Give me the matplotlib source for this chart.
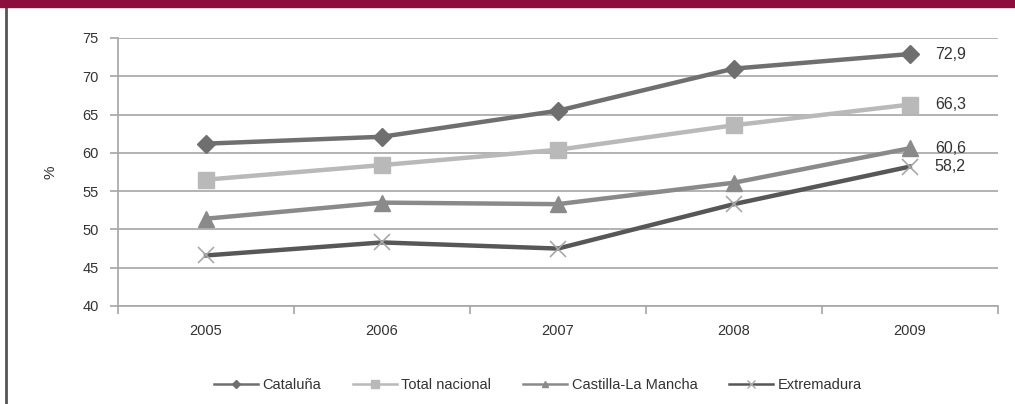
import numpy as np
import matplotlib as mpl
mpl.use('Agg')
import matplotlib.pyplot as plt
from matplotlib.patches import Rectangle
from matplotlib.lines import Line2D

plt.rcParams['font.family'] = ['Liberation Sans', 'DejaVu Sans']

years = ['2005', '2006', '2007', '2008', '2009']
cataluna = [61.2, 62.1, 65.5, 71.0, 72.9]
total_nacional = [56.5, 58.4, 60.4, 63.6, 66.3]
castilla = [51.4, 53.5, 53.3, 56.1, 60.6]
extremadura = [46.6, 48.3, 47.5, 53.3, 58.2]
end_labels = ['72,9', '66,3', '60,6', '58,2']

series = [
    ('Cataluña', cataluna, '#6f6f6f', 'D', 9, '#6f6f6f'),
    ('Total nacional', total_nacional, '#b9b9b9', 's', 12, '#b9b9b9'),
    ('Castilla-La Mancha', castilla, '#8a8a8a', '^', 11, '#8a8a8a'),
    ('Extremadura', extremadura, '#575757', 'x', 12, '#a8a8a8'),
]

fig = plt.figure(figsize=(10.15, 4.04), dpi=100)
fig.patch.set_facecolor('white')

# maroon band and left border
fig.add_artist(Rectangle((0, 0.982), 1, 0.018, transform=fig.transFigure,
                         color='#8b0e3b', zorder=5))
fig.add_artist(Line2D([0.006, 0.006], [0, 0.982], transform=fig.transFigure,
                      color='#555555', lw=2))

ax = fig.add_axes([0.1163, 0.2426, 0.8667, 0.6634])
x = np.arange(len(years))
for i, (name, vals, col, mk, ms, mcol) in enumerate(series):
    ax.plot(x, vals, color=col, lw=3.2, marker=mk, ms=ms,
            markerfacecolor=mcol, markeredgecolor=mcol,
            markeredgewidth=1.2 if mk == 'x' else 1, zorder=3)
    ax.annotate(end_labels[i], (x[-1], vals[-1]),
                xytext=(18, 0), textcoords='offset points', va='center',
                ha='left', fontsize=11.5, color='#333333')

ax.set_xlim(-0.5, 4.5)
ax.set_ylim(40, 75)
ax.set_yticks(np.arange(40, 76, 5))
ax.yaxis.grid(True, color='#a6a6a6', lw=1.2)
ax.set_axisbelow(True)
ax.set_xticks(x)
ax.set_xticklabels(years)
ax.set_xticks(np.arange(-0.5, 4.6, 1), minor=True)
ax.tick_params(axis='x', which='major', length=0, pad=13, labelsize=10.5,
               colors='#333333')
ax.tick_params(axis='x', which='minor', length=6, color='#a6a6a6', width=1.2)
ax.tick_params(axis='y', length=6, color='#a6a6a6', width=1.2, labelsize=10.5,
               labelcolor='#333333', pad=8)
for s in ['top', 'right']:
    ax.spines[s].set_visible(False)
for s in ['left', 'bottom']:
    ax.spines[s].set_color('#a6a6a6')
    ax.spines[s].set_linewidth(1.2)
ax.set_ylabel('%', fontsize=11, color='#333333', labelpad=18)

leg_handles = []
for name, vals, col, mk, ms, mcol in series:
    leg_handles.append(Line2D([], [], color=col, lw=1.8, marker=mk, ms=ms * 0.45,
                              markerfacecolor=mcol, markeredgecolor=mcol))
fig.legend(leg_handles, [s[0] for s in series], loc='center',
           bbox_to_anchor=(0.53, 0.047), ncol=4, frameon=False, fontsize=10.5,
           handlelength=3, columnspacing=2.2, handletextpad=0.3,
           labelcolor='#333333')

fig.savefig('out.png', dpi=100)
